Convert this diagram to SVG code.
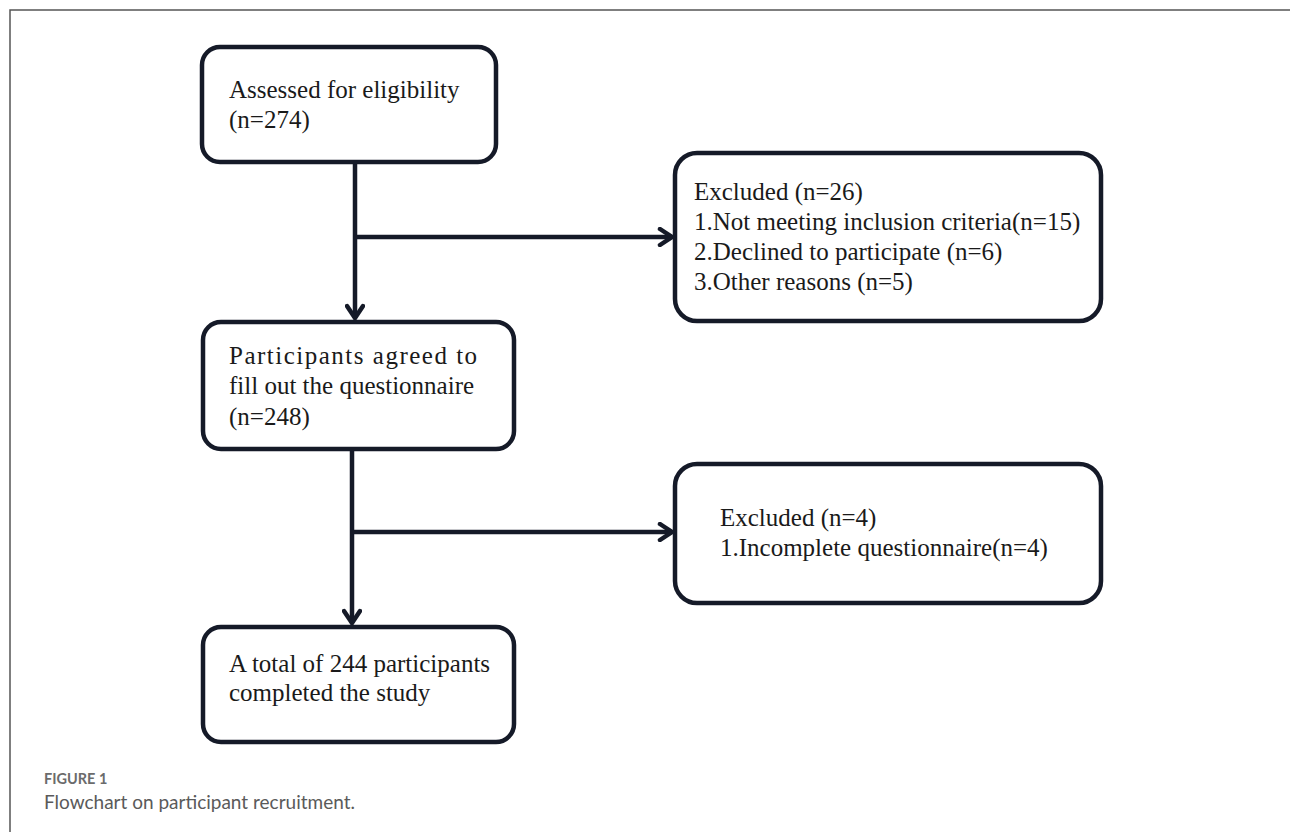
<svg xmlns="http://www.w3.org/2000/svg" width="1290" height="832" viewBox="0 0 1290 832">
<defs>
<style>
.box{fill:#fff;stroke:#151a28;stroke-width:4.5}
.t{font-family:"Liberation Serif","Times New Roman",serif;font-size:25px;fill:#1a1a1a}
.ln{stroke:#151a28;stroke-width:4.5;fill:none}
.cap1{font-family:Lato,"Open Sans",sans-serif;font-size:14.5px;font-weight:bold;fill:#6b6b6b}
.cap2{font-family:Lato,"Open Sans",sans-serif;font-size:19px;fill:#5a5a5a}
</style>
<marker id="arr" viewBox="0 0 20 20" refX="17" refY="10" markerWidth="20" markerHeight="20" markerUnits="userSpaceOnUse" orient="auto">
<path d="M5,2 L17,10 L5,18" fill="none" stroke="#151a28" stroke-width="4.5" stroke-linecap="round"/>
</marker>
</defs>
<rect width="1290" height="832" fill="#fff"/>
<path d="M10,832 V10 H1290" fill="none" stroke="#555" stroke-width="1.5"/>
<g id="connectors">
<line class="ln" x1="355" y1="163" x2="355" y2="318" marker-end="url(#arr)"/>
<line class="ln" x1="355" y1="237" x2="672" y2="237" marker-end="url(#arr)"/>
<line class="ln" x1="352" y1="450" x2="352" y2="623" marker-end="url(#arr)"/>
<line class="ln" x1="352" y1="532" x2="672" y2="532" marker-end="url(#arr)"/>
</g>
<g id="n1">
<rect class="box" x="202" y="47" width="294" height="115" rx="18"/>
<text class="t" x="229" y="98">Assessed for eligibility</text>
<text class="t" x="229" y="128">(n=274)</text>
</g>
<g id="n2">
<rect class="box" x="675" y="153" width="426" height="168" rx="22"/>
<text class="t" x="694" y="200">Excluded (n=26)</text>
<text class="t" x="694" y="230">1.Not meeting inclusion criteria(n=15)</text>
<text class="t" x="694" y="260">2.Declined to participate (n=6)</text>
<text class="t" x="694" y="290">3.Other reasons (n=5)</text>
</g>
<g id="n3">
<rect class="box" x="203" y="322" width="311" height="127" rx="18"/>
<text class="t" x="229" y="364" letter-spacing="1.5">Participants agreed to</text>
<text class="t" x="229" y="394">fill out the questionnaire</text>
<text class="t" x="229" y="425">(n=248)</text>
</g>
<g id="n4">
<rect class="box" x="675" y="464" width="426" height="139" rx="22"/>
<text class="t" x="720" y="526">Excluded (n=4)</text>
<text class="t" x="720" y="556">1.Incomplete questionnaire(n=4)</text>
</g>
<g id="n5">
<rect class="box" x="203" y="627" width="311" height="115" rx="18"/>
<text class="t" x="229" y="672">A total of 244 participants</text>
<text class="t" x="229" y="701">completed the study</text>
</g>
<g id="caption">
<text class="cap1" x="44" y="784">FIGURE 1</text>
<text class="cap2" x="44" y="809">Flowchart on participant recruitment.</text>
</g>
</svg>
